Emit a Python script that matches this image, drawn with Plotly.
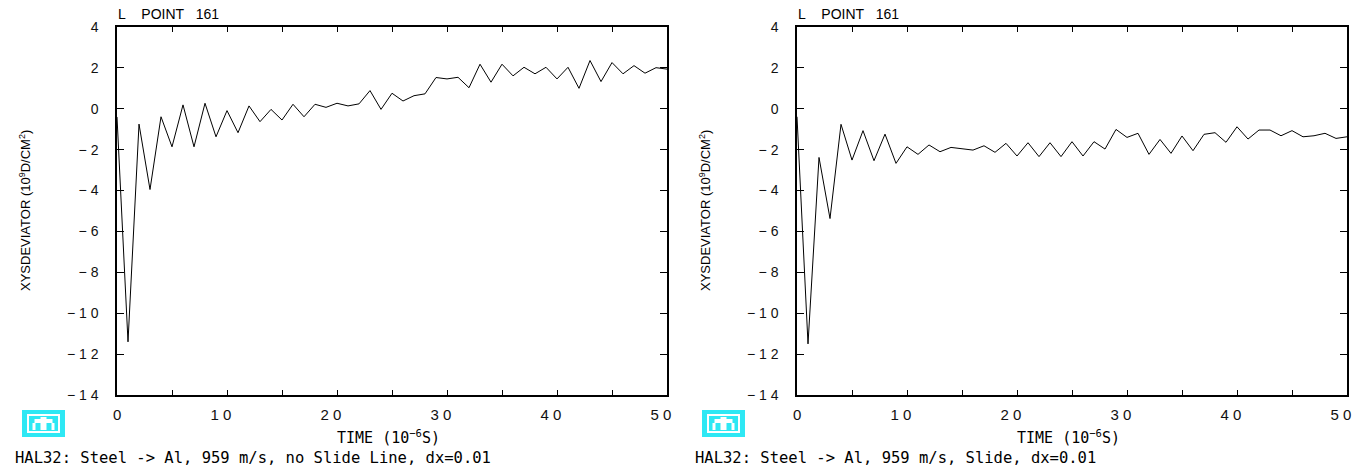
import plotly.graph_objects as go

# ---- data ----
time_us = list(range(51))
no_slide = [-0.40, -11.40, -0.75, -3.95, -0.39, -1.86, 0.19, -1.86, 0.27, -1.37,
            -0.09, -1.17, 0.14, -0.63, -0.03, -0.55, 0.22, -0.39, 0.22, 0.07,
            0.27, 0.14, 0.24, 0.89, -0.03, 0.76, 0.38, 0.64, 0.73, 1.53,
            1.46, 1.54, 1.03, 2.18, 1.30, 2.18, 1.61, 2.03, 1.71, 2.03,
            1.46, 2.03, 1.00, 2.36, 1.33, 2.26, 1.71, 2.11, 1.74, 2.01, 1.94]
slide = [-0.39, -11.50, -2.38, -5.37, -0.76, -2.51, -1.07, -2.54, -1.24, -2.67,
         -1.86, -2.23, -1.77, -2.10, -1.89, -1.94, -2.02, -1.81, -2.13, -1.69,
         -2.31, -1.66, -2.34, -1.66, -2.34, -1.61, -2.31, -1.61, -1.97, -1.01,
         -1.40, -1.20, -2.23, -1.50, -2.18, -1.33, -2.05, -1.25, -1.17, -1.64,
         -0.88, -1.48, -1.04, -1.04, -1.32, -1.07, -1.37, -1.32, -1.20, -1.45, -1.37]

NB = "\u00a0"
x_tickvals = [0, 10, 20, 30, 40, 50]
x_ticktext = [NB * 3 + "0", "1 0", "2 0", "3 0", "4 0", "5 0"]
x_minor_vals = [5, 15, 25, 35, 45]
y_tickvals = [-14, -12, -10, -8, -6, -4, -2, 0, 2, 4]
y_ticktext = ["\u2212 1 4", "\u2212 1 2", "\u2212 1 0", "\u2212 8", "\u2212 6",
              "\u2212 4", "\u2212 2", "0", "2", "4"]

panel_title = "L" + NB * 4 + "POINT" + NB * 3 + "161"
x_title = "TIME (10<sup>\u22126</sup>S)"
y_title = "XYSDEVIATOR (10<sup>9</sup>D/CM<sup>2</sup>)"
footnotes = ["HAL32: Steel -> Al, 959 m/s, no Slide Line, dx=0.01",
             "HAL32: Steel -> Al, 959 m/s, Slide, dx=0.01"]

W, H = 1356, 471
FONT = "Liberation Sans, Arial, sans-serif"
MONO = "DejaVu Sans Mono, Liberation Mono, monospace"

def px_x(p):
    return p / W

def px_y(p):
    return 1 - p / H

fig = go.Figure()
fig.add_trace(go.Scatter(x=time_us, y=no_slide, mode="lines",
                         line=dict(color="black", width=1), xaxis="x", yaxis="y",
                         showlegend=False))
fig.add_trace(go.Scatter(x=time_us, y=slide, mode="lines",
                         line=dict(color="black", width=1), xaxis="x2", yaxis="y2",
                         showlegend=False))

panels = [(117, 667), (797, 1347)]
y_dom = [px_y(395), px_y(27)]

common_x = dict(range=[0, 50], tickmode="array", tickvals=x_tickvals, ticktext=x_ticktext,
                ticks="inside", ticklen=5, tickwidth=1, tickcolor="black",
                minor=dict(tickmode="array", tickvals=x_minor_vals, ticks="inside",
                           ticklen=5, tickwidth=1, tickcolor="black", showgrid=False),
                showline=True, linecolor="black", linewidth=1.5, mirror="allticks",
                showgrid=False, zeroline=False, ticklabelstandoff=5, automargin=False,
                ticklabelshift=-6, ticklabeloverflow="allow",
                tickfont=dict(family=FONT, size=15, color="#111"))
common_y = dict(range=[-14, 4], tickmode="array", tickvals=y_tickvals, ticktext=y_ticktext,
                ticks="inside", ticklen=7, tickwidth=1, tickcolor="black",
                showline=True, linecolor="black", linewidth=1.5, mirror="allticks",
                showgrid=False, zeroline=False, ticklabelstandoff=14, automargin=False,
                ticklabeloverflow="allow",
                tickfont=dict(family=FONT, size=14, color="#111"))

fig.update_layout(
    width=W, height=H, margin=dict(l=0, r=0, t=0, b=0, autoexpand=False),
    paper_bgcolor="white", plot_bgcolor="white",
    xaxis=dict(common_x, domain=[px_x(panels[0][0]), px_x(panels[0][1])], anchor="y"),
    yaxis=dict(common_y, domain=y_dom, anchor="x"),
    xaxis2=dict(common_x, domain=[px_x(panels[1][0]), px_x(panels[1][1])], anchor="y2"),
    yaxis2=dict(common_y, domain=y_dom, anchor="x2"),
)

annotations = []
shapes = []
for i, (x0, x1) in enumerate(panels):
    off = x0 - 117
    annotations.append(dict(text=panel_title, x=px_x(x0 - 1), y=px_y(14), xref="paper", yref="paper",
                            xanchor="left", yanchor="middle", showarrow=False,
                            font=dict(family=FONT, size=14, color="black")))
    annotations.append(dict(text=x_title, x=px_x(335 + off), y=px_y(437), xref="paper", yref="paper",
                            xanchor="left", yanchor="middle", showarrow=False,
                            font=dict(family=MONO, size=15, color="black")))
    annotations.append(dict(text=y_title, x=px_x(25 + off), y=px_y(211), xref="paper", yref="paper",
                            xanchor="center", yanchor="middle", showarrow=False, textangle=-90,
                            font=dict(family=FONT, size=13, color="black")))
    annotations.append(dict(text=footnotes[i], x=px_x(13 + off), y=px_y(458), xref="paper", yref="paper",
                            xanchor="left", yanchor="middle", showarrow=False,
                            font=dict(family=MONO, size=15.5, color="black")))
    # logo
    lx0, lx1, ly0, ly1 = 23 + off, 64 + off, 411, 436
    cyan = "#2EE8F4"
    shapes.append(dict(type="rect", xref="paper", yref="paper",
                       x0=px_x(lx0), x1=px_x(lx1), y0=px_y(ly1), y1=px_y(ly0),
                       fillcolor=cyan, line=dict(color=cyan, width=2)))
    shapes.append(dict(type="rect", xref="paper", yref="paper",
                       x0=px_x(lx0 + 5), x1=px_x(lx1 - 5), y0=px_y(ly1 - 4), y1=px_y(ly0 + 4),
                       fillcolor=cyan, line=dict(color="white", width=2)))
    cx = (lx0 + lx1) / 2
    shapes.append(dict(type="rect", xref="paper", yref="paper",
                       x0=px_x(cx - 9), x1=px_x(cx + 9), y0=px_y(ly0 + 12), y1=px_y(ly0 + 8),
                       fillcolor="white", line=dict(width=0)))
    shapes.append(dict(type="rect", xref="paper", yref="paper",
                       x0=px_x(cx - 3), x1=px_x(cx + 3), y0=px_y(ly1 - 6), y1=px_y(ly0 + 6),
                       fillcolor="white", line=dict(width=0)))
    shapes.append(dict(type="rect", xref="paper", yref="paper",
                       x0=px_x(cx - 11), x1=px_x(cx - 8), y0=px_y(ly1 - 6), y1=px_y(ly0 + 12),
                       fillcolor="white", line=dict(width=0)))
    shapes.append(dict(type="rect", xref="paper", yref="paper",
                       x0=px_x(cx + 8), x1=px_x(cx + 11), y0=px_y(ly1 - 6), y1=px_y(ly0 + 12),
                       fillcolor="white", line=dict(width=0)))

fig.update_layout(annotations=annotations, shapes=shapes)
fig.write_html("out.html")
